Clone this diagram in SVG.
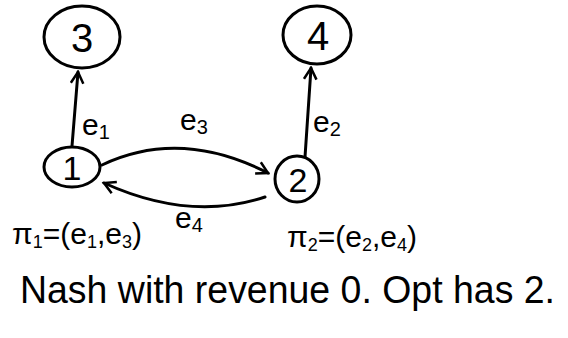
<svg xmlns="http://www.w3.org/2000/svg" width="568" height="338" viewBox="0 0 568 338">
<style>
.n{fill:none;stroke:#000;stroke-width:3}
.c{fill:none;stroke:#000;stroke-width:3;stroke-linecap:round}
.t{font-family:"Liberation Sans",Arial,sans-serif;fill:#000}
</style>
<defs>
<marker id="a" viewBox="0 0 12 12" refX="10" refY="6" markerWidth="5" markerHeight="5" orient="auto" markerUnits="strokeWidth">
<path d="M1,1 L10,6 L1,11" fill="none" stroke="#000" stroke-width="2"/>
</marker>
</defs>
<rect width="568" height="338" fill="#fff"/>
<g id="node3"><ellipse class="n" cx="82" cy="37" rx="38" ry="31"/><text class="t" x="82" y="52" font-size="40" text-anchor="middle">3</text></g>
<g id="node4"><ellipse class="n" cx="317" cy="35" rx="34" ry="29"/><text class="t" x="318" y="50" font-size="40" text-anchor="middle">4</text></g>
<g id="node1"><ellipse class="n" cx="72" cy="167" rx="28" ry="20"/><text class="t" x="72" y="180" font-size="34" text-anchor="middle">1</text></g>
<g id="node2"><ellipse class="n" cx="297" cy="179" rx="22" ry="23"/><text class="t" x="298" y="192" font-size="34" text-anchor="middle">2</text></g>
<g id="connectors">
<path class="c" d="M72,146 L78,72" marker-end="url(#a)"/>
<path class="c" d="M305,157 L311,68" marker-end="url(#a)"/>
<path class="c" d="M102,165 Q180,128 268,173" marker-end="url(#a)"/>
<path class="c" d="M265,197 Q190,222 104,183" marker-end="url(#a)"/>
</g>
<g id="labels">
<text class="t" x="82" y="135" font-size="30">e<tspan font-size="20" dy="4">1</tspan></text>
<text class="t" x="313" y="132" font-size="30">e<tspan font-size="20" dy="4">2</tspan></text>
<text class="t" x="180" y="130" font-size="30">e<tspan font-size="20" dy="4">3</tspan></text>
<text class="t" x="175" y="228" font-size="30">e<tspan font-size="20" dy="4">4</tspan></text>
<text class="t" x="12" y="244" font-size="30">π<tspan font-size="18" dy="4">1</tspan><tspan dy="-4">=(e</tspan><tspan font-size="18" dy="4">1</tspan><tspan dy="-4">,e</tspan><tspan font-size="18" dy="4">3</tspan><tspan dy="-4">)</tspan></text>
<text class="t" x="287" y="247" font-size="30">π<tspan font-size="18" dy="4">2</tspan><tspan dy="-4">=(e</tspan><tspan font-size="18" dy="4">2</tspan><tspan dy="-4">,e</tspan><tspan font-size="18" dy="4">4</tspan><tspan dy="-4">)</tspan></text>
<text class="t" x="20" y="303" font-size="38" textLength="535" lengthAdjust="spacingAndGlyphs">Nash with revenue 0. Opt has 2.</text>
</g>
</svg>
